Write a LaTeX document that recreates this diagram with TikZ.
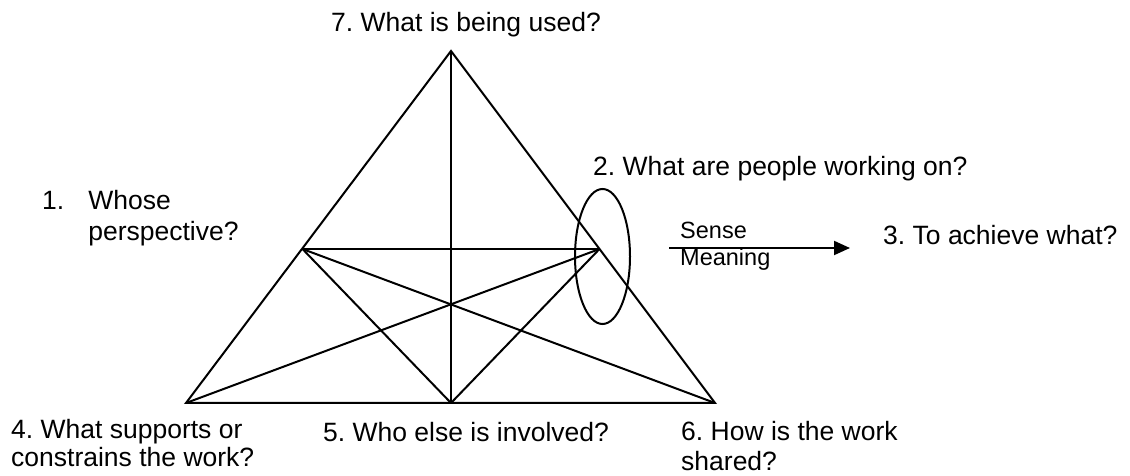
\documentclass[tikz,border=0pt]{standalone}
\usepackage{fontspec}
\setmainfont{Liberation Sans}
\usetikzlibrary{arrows.meta,shapes.geometric}
\frenchspacing
\begin{document}
\begin{tikzpicture}[x=1pt,y=1pt,
  edge/.style={line width=2pt,line join=miter},
  lbl/.style={anchor=base west,inner sep=0pt,font=\fontsize{26.5}{30}\selectfont},
  small/.style={anchor=base west,inner sep=0pt,font=\fontsize{23.5}{27.7}\selectfont}]
\useasboundingbox (0,0) rectangle (1130,476);
% vertices
\coordinate (A) at (451,425);
\coordinate (BL) at (186,73);
\coordinate (BR) at (715,73);
\coordinate (BM) at (451,73);
\coordinate (L) at (302.5,227);
\coordinate (R) at (599.5,227);
% triangle and lines
\draw[edge] (A) -- (BR) -- (BL) -- cycle;
\draw[edge] (A) -- (BM);
\draw[edge] (L) -- (R);
\draw[edge] (L) -- (BR);
\draw[edge] (R) -- (BL);
\draw[edge] (L) -- (BM);
\draw[edge] (R) -- (BM);
% ellipse
\node[draw,line width=2pt,ellipse,minimum width=55pt,minimum height=135pt,inner sep=0pt] (ell) at (602.5,219.5) {};
% arrow
\coordinate (as) at (669,228);
\coordinate (ae) at (850,228);
\draw[line width=2pt,-{Triangle[length=16pt,width=14pt]}] (as) -- (ae);
% labels
\node[lbl] (l7) at (331,444) {7. What is being used?};
\node[lbl] (l2) at (593,300) {2. What are people working on?};
\node[lbl] (l3) at (883,231) {3. To achieve what?};
\node[lbl,font=\fontsize{26.5}{31}\selectfont] (l1) at (42,266) {\begin{tabular}[t]{@{}l@{\hspace{24pt}}l@{}}1.&Whose\\&perspective?\end{tabular}};
\node[lbl,font=\fontsize{26.5}{28}\selectfont] (l4) at (11,37) {\begin{tabular}[t]{@{}l@{}}4. What supports or\\constrains the work?\end{tabular}};
\node[lbl] (l5) at (323,34) {5. Who else is involved?};
\node[lbl,font=\fontsize{26.5}{30}\selectfont] (l6) at (681,35) {\begin{tabular}[t]{@{}l@{}}6. How is the work\\shared?\end{tabular}};
\node[small] (sm) at (680,237.7) {\begin{tabular}[t]{@{}l@{}}Sense\\Meaning\end{tabular}};
\end{tikzpicture}
\end{document}
